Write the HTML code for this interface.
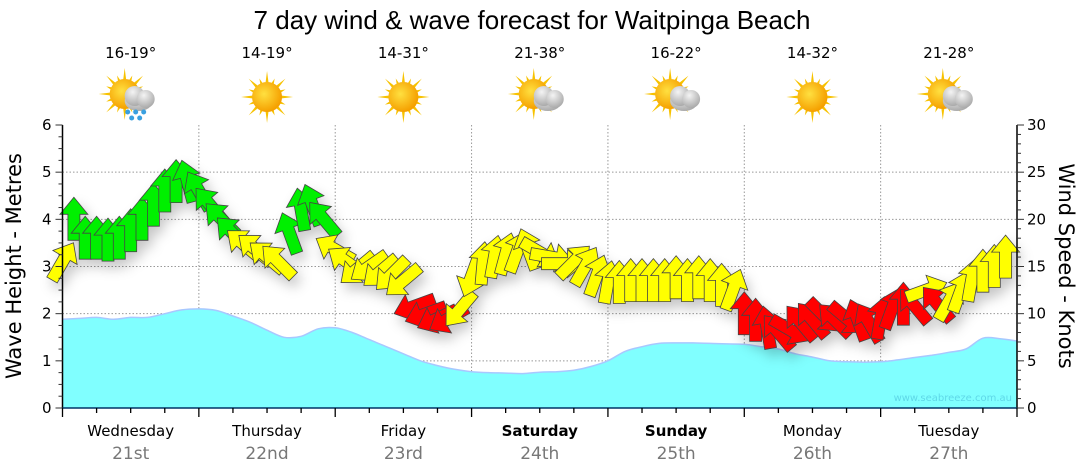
<!DOCTYPE html>
<html><head><meta charset="utf-8">
<style>
html,body{margin:0;padding:0;background:#fff;}
svg{display:block;font-family:"DejaVu Sans","Liberation Sans",sans-serif;}
</style></head>
<body>
<svg id="chart" width="1080" height="475" viewBox="0 0 1080 475" xmlns="http://www.w3.org/2000/svg">
<defs>
<filter id="shadow" x="-50%" y="-50%" width="200%" height="200%">
<feDropShadow dx="4" dy="7" stdDeviation="6" flood-color="#000" flood-opacity="0.22"/>
</filter>
<radialGradient id="sunG" cx="0.4" cy="0.4" r="0.6">
<stop offset="0" stop-color="#ffe040"/><stop offset="1" stop-color="#f5a000"/>
</radialGradient>
<radialGradient id="cloudG" cx="0.4" cy="0.3" r="0.8">
<stop offset="0" stop-color="#f4f4f4"/><stop offset="1" stop-color="#a0a0a0"/>
</radialGradient>
</defs>
<text x="532" y="29" font-size="26" text-anchor="middle" fill="#000" font-family="Liberation Sans, sans-serif">7 day wind &amp; wave forecast for Waitpinga Beach</text>
<g id="header"></g>
<g id="grid"></g>
<g id="wave"></g>
<text x="1012" y="401" font-size="10" text-anchor="end" fill="#5fd8e8">www.seabreeze.com.au</text>
<g id="wind" filter="url(#shadow)"></g>
<g id="axes"></g>
<text transform="translate(21,266) rotate(-90)" font-size="21" text-anchor="middle" fill="#000">Wave Height - Metres</text>
<text transform="translate(1059,266) rotate(90)" font-size="21" text-anchor="middle" fill="#000">Wind Speed - Knots</text>
</svg>
<script>
const dayNames = ["Wednesday","Thursday","Friday","Saturday","Sunday","Monday","Tuesday"];
const dayDates = ["21st","22nd","23rd","24th","25th","26th","27th"];
const dayBold = [false,false,false,true,true,false,false];
const temps = ["16-19°","14-19°","14-31°","21-38°","16-22°","14-32°","21-28°"];
const icons = ["rain","sun","sun","cloud","cloud","sun","cloud"];
const leftTicks = [0,1,2,3,4,5,6];
const rightTicks = [0,5,10,15,20,25,30];
// wave height (m), 3-hourly
const waveHeight = [1.88,1.9,1.92,1.88,1.92,1.92,2.0,2.08,2.1,2.07,1.95,1.82,1.65,1.5,1.52,1.68,1.7,1.6,1.45,1.3,1.15,1.0,0.9,0.82,0.77,0.75,0.74,0.73,0.76,0.77,0.8,0.88,1.0,1.2,1.3,1.37,1.38,1.38,1.37,1.36,1.35,1.3,1.25,1.15,1.08,1.0,0.98,0.97,0.98,1.02,1.07,1.12,1.18,1.25,1.48,1.47,1.42];
// wind speed (knots), 2-hourly
const windSpeed = [15.5,20,18,18,17.8,18,18.8,20,21.5,23,24,24,23,21.5,20,18.5,17.3,16.8,16,15.5,18.5,21,21.5,20,16.8,15.5,14.8,15,14.5,14.2,13.5,10.8,10,9.5,9.5,10.5,14,15.3,16,16.3,16.5,16.8,16.5,16,15.3,15.5,15,14,13.3,13.3,13.5,13.5,13.5,13.5,13.8,13.5,13.8,13.5,13,12.5,10,9.3,8.5,8,8.3,9,9.3,9.8,9.3,9.5,9.3,9,9.5,10.5,11,10.8,12.5,11,11.3,12.3,13.5,14.5,15,16];
// arrow heading (deg, 0 = up, clockwise)
const windDir = [30,0,0,0,0,0,0,0,0,0,0,-15,-30,-40,-45,-45,-50,-50,-50,-45,-20,-10,-20,-40,-60,-55,-130,-125,-130,-135,-130,-110,-110,-115,-120,-140,-160,5,10,15,20,-20,120,100,90,45,30,20,10,0,0,0,0,0,0,0,0,0,0,20,0,0,-10,-40,120,-40,-40,135,-45,130,-20,-30,10,20,0,-40,70,-40,30,20,10,0,0,0];
const windColor = ["Y","G","G","G","G","G","G","G","G","G","G","G","G","G","G","G","Y","Y","Y","Y","G","G","G","G","Y","Y","Y","Y","Y","Y","Y","R","R","R","R","Y","Y","Y","Y","Y","Y","Y","Y","Y","Y","Y","Y","Y","Y","Y","Y","Y","Y","Y","Y","Y","Y","Y","Y","Y","R","R","R","R","R","R","R","R","R","R","R","R","R","R","R","R","Y","R","Y","Y","Y","Y","Y","Y"];

const NS="http://www.w3.org/2000/svg";
const X0=62.5, X1=1017, Y0=408, YT=125;
const dayW=(X1-X0)/7;
const xHour=h=>X0+h*(X1-X0)/168;
const yM=m=>Y0-m*(Y0-YT)/6;
const yK=k=>Y0-k*(Y0-YT)/30;
function mk(tag,attrs,parent){const e=document.createElementNS(NS,tag);for(const k in attrs)e.setAttribute(k,attrs[k]);parent.appendChild(e);return e;}

// header
const header=document.getElementById('header');
temps.forEach((t,i)=>{
  const cx=X0+dayW*(i+0.5);
  const tx=mk('text',{x:cx,y:58,'font-size':15,'text-anchor':'middle',fill:'#000'},header);
  tx.textContent=t;
  
  
  const g=mk('g',{transform:`translate(${cx},97)`},header);
  
  
  const sx=icons[i]==="sun"?0:-6, sy=icons[i]==="sun"?0:-3;
  for(let a=0;a<16;a++){
    const ang=a*Math.PI/8, r1=a%2?20:26;
    const p1=[sx+Math.cos(ang-0.15)*12,sy+Math.sin(ang-0.15)*12],p2=[sx+Math.cos(ang)*r1,sy+Math.sin(ang)*r1],p3=[sx+Math.cos(ang+0.15)*12,sy+Math.sin(ang+0.15)*12];
    mk('polygon',{points:`${p1} ${p2} ${p3}`,fill:'#f7c200'},g);
  }
  mk('circle',{cx:sx,cy:sy,r:15,fill:'url(#sunG)'},g);
  if(icons[i]!=="sun"){
    mk('ellipse',{cx:8,cy:4,rx:14,ry:10,fill:'url(#cloudG)'},g);
    mk('circle',{cx:4,cy:-1,r:10,fill:'url(#cloudG)'},g);
    mk('circle',{cx:15,cy:2,r:9,fill:'url(#cloudG)'},g);
  }
  if(icons[i]==="rain"){
    [[-3,15],[5,15],[13,15],[1,21],[9,21]].forEach(d=>mk('circle',{cx:d[0],cy:d[1],r:2.5,fill:'#3aa0e0'},g));
  }
});

// grid
const grid=document.getElementById('grid');
for(let m=1;m<=5;m++) mk('line',{x1:X0,x2:X1,y1:yM(m),y2:yM(m),stroke:'#999','stroke-dasharray':'1.5,2','stroke-width':1},grid);
for(let d=1;d<7;d++){const x=X0+d*dayW;mk('line',{x1:x,x2:x,y1:YT,y2:Y0,stroke:'#999','stroke-dasharray':'1.5,2','stroke-width':1},grid);}

// wave (smoothed)
const wave=document.getElementById('wave');
let pts=waveHeight.map((v,i)=>[xHour(i*3),yM(v)]);
function smooth(p){
  let s=`${p[0][0].toFixed(1)},${p[0][1].toFixed(1)}`;
  for(let i=0;i<p.length-1;i++){
    const p0=p[Math.max(0,i-1)],p1=p[i],p2=p[i+1],p3=p[Math.min(p.length-1,i+2)];
    const c1=[p1[0]+(p2[0]-p0[0])/6,p1[1]+(p2[1]-p0[1])/6];
    const c2=[p2[0]-(p3[0]-p1[0])/6,p2[1]-(p3[1]-p1[1])/6];
    s+=` C${c1[0].toFixed(1)},${c1[1].toFixed(1)} ${c2[0].toFixed(1)},${c2[1].toFixed(1)} ${p2[0].toFixed(1)},${p2[1].toFixed(1)}`;
  }
  return s;
}
const sp=smooth(pts);
const area=mk('path',{d:`M${X0},${Y0} L${sp} L${X1},${Y0} Z`,fill:'#80ffff',stroke:'none'},wave);


const wl=mk('path',{d:'M'+sp,fill:'none',stroke:'#a8c8ff','stroke-width':1.5},wave);



// wind
const wind=document.getElementById('wind');
const colMap={G:'#00f000',Y:'#ffff00',R:'#ff0000'};
windSpeed.forEach((s,i)=>{
  const x=xHour(i*2), y=yK(s);
  const a=mk('polygon',{points:'0,-22 14,-5 6,-5 6,21 -6,21 -6,-5 -14,-5',transform:`translate(${x.toFixed(1)},${y.toFixed(1)}) rotate(${windDir[i]})`,fill:colMap[windColor[i]],stroke:'#444','stroke-width':0.8,'stroke-linejoin':'miter'},wind);
  
  
});

// axes
const axes=document.getElementById('axes');
mk('line',{x1:X0,x2:X0,y1:YT,y2:Y0,stroke:'#000','stroke-width':1.5},axes);
mk('line',{x1:X1,x2:X1,y1:YT,y2:Y0,stroke:'#000','stroke-width':1.5},axes);
mk('line',{x1:X0,x2:X1,y1:Y0,y2:Y0,stroke:'#036','stroke-width':1.5},axes);
for(let q=0;q<=24;q++){const y=yM(q/4);mk('line',{x1:X0-(q%4?4:7),x2:X0,y1:y,y2:y,stroke:'#333','stroke-width':1},axes);}
leftTicks.forEach(v=>{const t=mk('text',{x:X0-11,y:yM(v)+5,'font-size':15,'text-anchor':'end',fill:'#000'},axes);t.textContent=v;
  
  });
for(let k=0;k<=30;k++){const y=yK(k);mk('line',{x1:X1,x2:X1+(k%5?4:7),y1:y,y2:y,stroke:'#333','stroke-width':1},axes);}
rightTicks.forEach(v=>{const t=mk('text',{x:X1+10,y:yK(v)+5,'font-size':15,'text-anchor':'start',fill:'#000'},axes);t.textContent=v;
  
  });
for(let q=0;q<=28;q++){const x=X0+q*dayW/4;mk('line',{x1:x,x2:x,y1:Y0,y2:Y0+(q%4?5:9),stroke:'#000','stroke-width':1.3},axes);}
dayNames.forEach((n,i)=>{
  const cx=X0+dayW*(i+0.5);
  const t=mk('text',{x:cx,y:436,'font-size':15,'text-anchor':'middle',fill:'#000','font-weight':dayBold[i]?'bold':'normal'},axes);
  t.textContent=n;
  
  
  const t2=mk('text',{x:cx,y:459,'font-size':17,'text-anchor':'middle',fill:'#777'},axes);
  t2.textContent=dayDates[i];
  
  
});
</script>
</body></html>
